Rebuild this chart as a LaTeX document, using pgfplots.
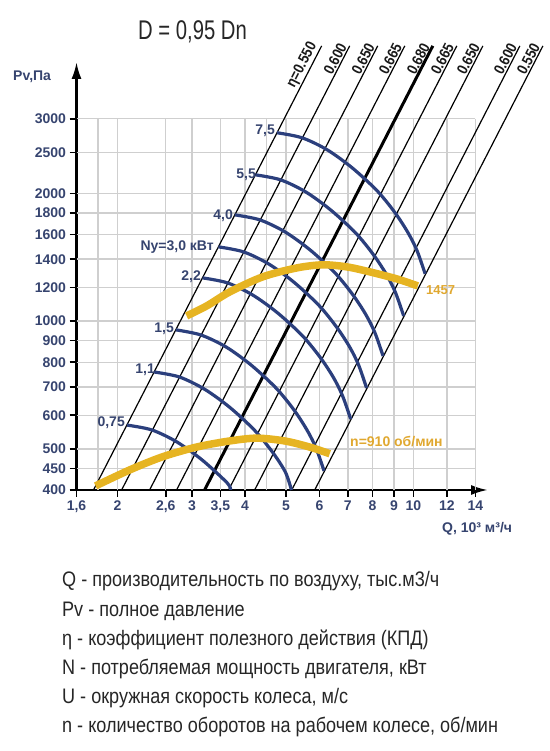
\documentclass[border=0pt]{standalone}
\usepackage{pgfplots}
\pgfplotsset{compat=1.18}
\usetikzlibrary{arrows.meta}
\usepackage{fontspec}
\setmainfont{Liberation Sans}
\newfontfamily\condfont[FakeStretch=0.86]{Liberation Sans}
\newfontfamily\titlefont[FakeStretch=0.75]{Liberation Sans}
\newfontfamily\etafont[FakeStretch=0.88]{Liberation Sans}
\definecolor{curveblue}{HTML}{2B3F7D}
\definecolor{gold}{HTML}{E6B422}
\definecolor{goldtext}{HTML}{E0A830}
\definecolor{labelblue}{HTML}{36446F}
\definecolor{gridgray}{HTML}{CFCFCF}
\begin{document}
\begin{tikzpicture}[x=1bp,y=1bp]
\path[use as bounding box] (0,0) rectangle (550,-751);
\begin{axis}[
  at={(76.5bp,-490bp)}, anchor=south west,
  scale only axis, width=411.5bp, height=428bp,
  xmode=log, ymode=log,
  xmin=1.6, xmax=15, ymin=400, ymax=4083,
  axis x line=bottom, axis y line=left,
  axis line style={line width=2.4bp, -{Latex[length=17bp,width=10bp]}},
  clip=false,
  xtick={1.6,2,2.6,3,3.5,4,5,6,7,8,9,10,12,14},
  xticklabels={{1,6},2,{2,6},3,{3,5},4,5,6,7,8,9,10,12,14},
  ytick={400,450,500,600,700,800,900,1000,1200,1400,1600,1800,2000,2500,3000},
  yticklabels={400,450,500,600,700,800,900,1000,1200,1400,1600,1800,2000,2500,3000},
  minor xtick={}, minor ytick={},
  tick align=outside, major tick length=7bp,
  tick style={line width=1.6bp, black},
  ticklabel style={font=\bfseries\fontsize{14bp}{14bp}\selectfont, text=labelblue},
]
% grid
\pgfplotsinvokeforeach{1.8,2,2.6,3,3.5,4,4.5,5,6,7,8,9,10,12,14}{
  \addplot[gridgray, line width=1.4bp, forget plot] coordinates {(#1,400) (#1,3000)};
}
\pgfplotsinvokeforeach{450,500,600,700,800,900,1000,1200,1400,1600,1800,2000,2500,3000}{
  \addplot[gridgray, line width=1.4bp, forget plot] coordinates {(1.6,#1) (14,#1)};
}
% efficiency lines
\addplot[black, line width=1.2bp] coordinates {(1.755,400) (6.07,4457)};
\addplot[black, line width=1.2bp] coordinates {(2.045,400) (7.07,4457)};
\addplot[black, line width=1.2bp] coordinates {(2.381,400) (8.235,4457)};
\addplot[black, line width=1.2bp] coordinates {(2.757,400) (9.54,4457)};
\addplot[black, line width=3.0bp] coordinates {(3.211,400) (11.11,4457)};
\addplot[black, line width=1.2bp] coordinates {(3.659,400) (12.66,4457)};
\addplot[black, line width=1.2bp] coordinates {(4.216,400) (14.59,4457)};
\addplot[black, line width=1.2bp] coordinates {(5.158,400) (17.84,4457)};
\addplot[black, line width=1.2bp] coordinates {(5.845,400) (20.22,4457)};
% power curves
\addplot[curveblue, line width=3.2bp, smooth] coordinates {(4.760,2781) (5.454,2706) (6.250,2536) (7.161,2300) (8.205,2030) (9.049,1801) (9.714,1615) (10.200,1465) (10.656,1293)};
\addplot[curveblue, line width=3.2bp, smooth] coordinates {(4.235,2213) (4.852,2154) (5.561,2018) (6.371,1830) (7.300,1615) (8.051,1433) (8.643,1286) (9.075,1166) (9.481,1029)};
\addplot[curveblue, line width=3.2bp, smooth] coordinates {(3.786,1781) (4.338,1733) (4.971,1624) (5.696,1473) (6.526,1300) (7.198,1153) (7.726,1035) (8.113,938) (8.476,828)};
\addplot[curveblue, line width=3.2bp, smooth] coordinates {(3.462,1497) (3.967,1457) (4.546,1365) (5.208,1238) (5.968,1092) (6.582,969) (7.065,870) (7.419,789) (7.750,696)};
\addplot[curveblue, line width=3.2bp, smooth] coordinates {(3.175,1265) (3.638,1231) (4.169,1153) (4.776,1046) (5.473,923) (6.036,819) (6.480,735) (6.804,666) (7.108,588)};
\addplot[curveblue, line width=3.2bp, smooth] coordinates {(2.746,954) (3.146,928) (3.605,870) (4.131,789) (4.734,696) (5.220,618) (5.604,554) (5.884,503) (6.148,444)};
\addplot[curveblue, line width=3.2bp, smooth] coordinates {(2.441,759) (2.797,739) (3.205,692) (3.672,628) (4.208,554) (4.641,492) (4.982,441) (5.15,400)};
\addplot[curveblue, line width=3.2bp, smooth] coordinates {(2.105,569) (2.412,554) (2.764,519) (3.167,471) (3.629,416) (3.70,400)};
% speed curves
\addplot[gold, line width=7.5bp, smooth] coordinates {(2.912,1029) (3.246,1086) (3.680,1172) (4.405,1272) (5.299,1335) (6.106,1358) (6.955,1343) (7.886,1307) (9.133,1258) (10.24,1211)};
\addplot[gold, line width=7.5bp, smooth] coordinates {(1.775,409) (2.136,446) (2.555,479) (3.073,505) (3.680,522) (4.264,530) (4.963,522) (5.687,505) (6.343,487)};
% efficiency labels
\begin{scope}[every node/.style={rotate=62.8, anchor=south east, inner sep=1.5bp, font=\etafont\bfseries\fontsize{15bp}{15bp}\selectfont, text=black!90}]
\node at (axis cs:6.07,4457) {η=0.550};
\node at (axis cs:7.07,4457) {0.600};
\node at (axis cs:8.235,4457) {0.650};
\node at (axis cs:9.54,4457) {0.665};
\node at (axis cs:11.11,4457) {0.680};
\node at (axis cs:12.66,4457) {0.665};
\node at (axis cs:14.59,4457) {0.650};
\node at (axis cs:17.84,4457) {0.600};
\node at (axis cs:20.22,4457) {0.550};
\end{scope}
\end{axis}
% texts
\node[anchor=base west, inner sep=0, font=\titlefont\fontsize{27bp}{27bp}\selectfont, text=black!85] at (138,-39.5) {D = 0,95 Dn};
\node[anchor=base west, inner sep=0, font=\bfseries\fontsize{14bp}{14bp}\selectfont, text=labelblue] at (13,-80) {Pv,Па};
\node[anchor=base west, inner sep=0, font=\bfseries\fontsize{14bp}{14bp}\selectfont, text=labelblue] at (442,-532) {Q, 10³ м³/ч};
\begin{scope}[every node/.style={anchor=east, inner sep=0, font=\bfseries\fontsize{14bp}{14bp}\selectfont, text=labelblue}]
\node at (275,-131) {7,5};
\node at (256,-175) {5,5};
\node at (233,-216) {4,0};
\node at (214,-247) {Nу=3,0 кВт};
\node at (201,-277) {2,2};
\node at (174,-329) {1,5};
\node at (155,-370) {1,1};
\node at (125,-423) {0,75};
\end{scope}
\node[anchor=west, inner sep=0, font=\bfseries\fontsize{13bp}{13bp}\selectfont, text=goldtext] at (426,-290) {1457};
\node[anchor=west, inner sep=0, font=\bfseries\fontsize{14bp}{14bp}\selectfont, text=goldtext] at (350,-442) {n=910 об/мин};
\begin{scope}[every node/.style={anchor=base west, inner sep=0, font=\condfont\fontsize{21bp}{21bp}\selectfont, text=black!85}]
\node at (62,-586) {Q - производительность по воздуху, тыс.м3/ч};
\node at (62,-616) {Pv - полное давление};
\node at (62,-645) {η - коэффициент полезного действия (КПД)};
\node at (62,-674) {N - потребляемая мощность двигателя, кВт};
\node at (62,-703) {U - окружная скорость колеса, м/с};
\node at (62,-732) {n - количество оборотов на рабочем колесе, об/мин};
\end{scope}
\end{tikzpicture}
\end{document}
